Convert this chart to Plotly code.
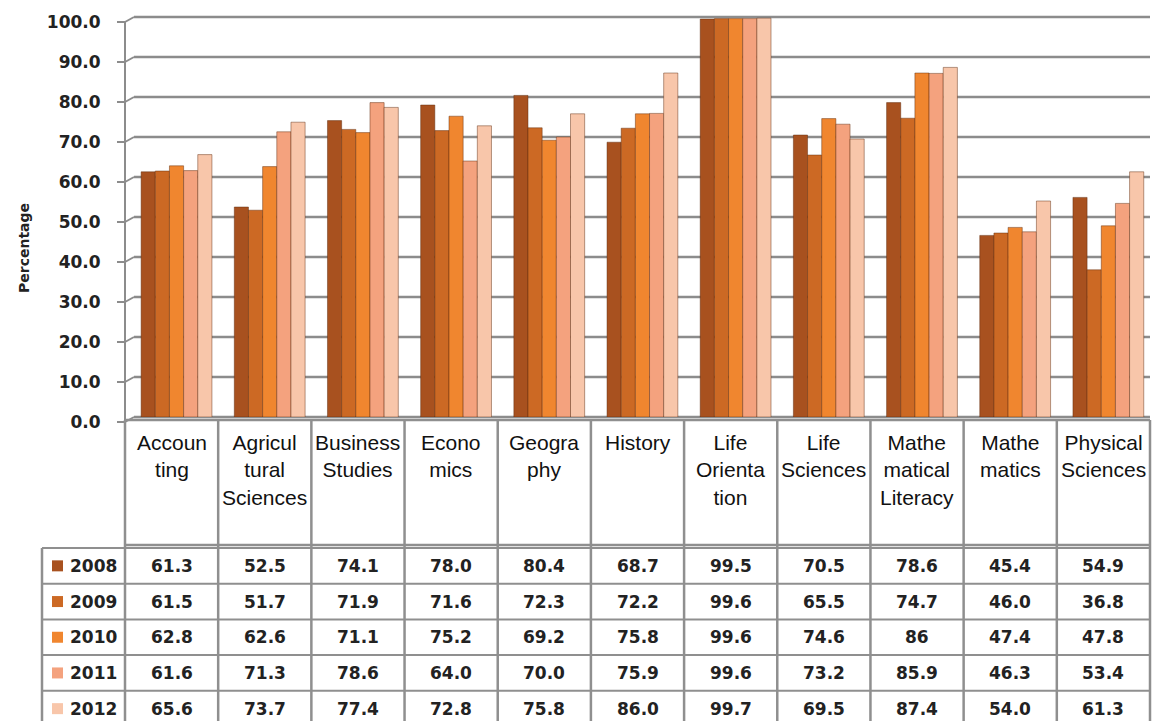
import plotly.graph_objects as go

# ---------------- data ----------------
subjects = ["Accoun<br>ting", "Agricul<br>tural<br>Sciences", "Business<br>Studies",
            "Econo<br>mics", "Geogra<br>phy", "History", "Life<br>Orienta<br>tion",
            "Life<br>Sciences", "Mathe<br>matical<br>Literacy", "Mathe<br>matics",
            "Physical<br>Sciences"]
years = ["2008", "2009", "2010", "2011", "2012"]
v2008 = [61.3, 52.5, 74.1, 78.0, 80.4, 68.7, 99.5, 70.5, 78.6, 45.4, 54.9]
v2009 = [61.5, 51.7, 71.9, 71.6, 72.3, 72.2, 99.6, 65.5, 74.7, 46.0, 36.8]
v2010 = [62.8, 62.6, 71.1, 75.2, 69.2, 75.8, 99.6, 74.6, 86, 47.4, 47.8]
v2011 = [61.6, 71.3, 78.6, 64.0, 70.0, 75.9, 99.6, 73.2, 85.9, 46.3, 53.4]
v2012 = [65.6, 73.7, 77.4, 72.8, 75.8, 86.0, 99.7, 69.5, 87.4, 54.0, 61.3]
series = [v2008, v2009, v2010, v2011, v2012]
y_ticks = [0, 10, 20, 30, 40, 50, 60, 70, 80, 90, 100]
y_title = "Percentage"

# ---------------- style ----------------
colors = ["#A8511F", "#CC6924", "#F0862F", "#F4A27E", "#F8C6AA"]
W, H = 1152, 721
L, R, T, B = 125, 2, 17, 304
PW, PH = W - L - R, H - T - B
grid_col = "#8c8c8c"
tbl_col = "#8f8f8f"
txt_col = "#222222"
bold = dict(family="DejaVu Sans", size=17, color=txt_col, weight="bold")


def px(x):
    return (x - L) / PW


def py(y):
    return (T + PH - y) / PH


def fmt(v):
    return str(v) if isinstance(v, int) else f"{v:.1f}"


n = len(subjects)
fig = go.Figure()
for yr, vals, c in zip(years, series, colors):
    fig.add_trace(go.Bar(
        x=list(range(n)), y=vals, name=yr,
        marker=dict(color=c, line=dict(color="rgba(90,40,10,0.45)", width=1)),
        showlegend=False,
    ))

shapes = []
annotations = []

# gridlines on the back wall + slanted connectors + front axis with ticks
front = 5 / PH
for v in y_ticks:
    g = v / 100
    shapes.append(dict(type="line", xref="paper", yref="paper", x0=px(134), x1=1,
                       y0=g, y1=g, line=dict(color=grid_col, width=2.5), layer="below"))
    shapes.append(dict(type="line", xref="paper", yref="paper", x0=0, x1=px(134),
                       y0=g - front, y1=g, line=dict(color=grid_col, width=2), layer="below"))
    shapes.append(dict(type="line", xref="paper", yref="paper", x0=px(117), x1=0,
                       y0=g - front, y1=g - front, line=dict(color=grid_col, width=2)))
shapes.append(dict(type="line", xref="paper", yref="paper", x0=0, x1=0,
                   y0=-front, y1=1 - front, line=dict(color=grid_col, width=2)))

# header box with category names
hdr_top, hdr_bot = py(420), py(545)
shapes.append(dict(type="line", xref="paper", yref="paper", x0=0, x1=1,
                   y0=hdr_top, y1=hdr_top, line=dict(color=tbl_col, width=2.5)))
shapes.append(dict(type="line", xref="paper", yref="paper", x0=0, x1=1,
                   y0=hdr_bot, y1=hdr_bot, line=dict(color=tbl_col, width=2.5)))
for k in range(n + 1):
    shapes.append(dict(type="line", xref="paper", yref="paper", x0=k / n, x1=k / n,
                       y0=py(726), y1=hdr_top, line=dict(color=tbl_col, width=2.5)))
for k, s in enumerate(subjects):
    annotations.append(dict(xref="paper", yref="paper", x=(k + 0.5) / n, y=py(429),
                            xanchor="center", yanchor="top", text=s, showarrow=False,
                            align="center",
                            font=dict(family="Liberation Sans", size=21, color="#111111")))

# data rows
row_top = 548
row_h = 35.7
shapes.append(dict(type="line", xref="paper", yref="paper", x0=px(42), x1=px(42),
                   y0=py(row_top + row_h * 5), y1=py(row_top), line=dict(color=tbl_col, width=2.5)))
for r in range(6):
    yy = py(row_top + r * row_h)
    shapes.append(dict(type="line", xref="paper", yref="paper", x0=px(42), x1=1,
                       y0=yy, y1=yy, line=dict(color=tbl_col, width=2)))
for r, (yr, vals, c) in enumerate(zip(years, series, colors)):
    yc = row_top + (r + 0.5) * row_h
    shapes.append(dict(type="rect", xref="paper", yref="paper", x0=px(52), x1=px(63),
                       y0=py(yc + 5.5), y1=py(yc - 5.5), fillcolor=c, line=dict(width=0)))
    annotations.append(dict(xref="paper", yref="paper", x=px(68), y=py(yc),
                            xanchor="left", yanchor="middle", text=yr, showarrow=False,
                            font=bold))
    for k, v in enumerate(vals):
        annotations.append(dict(xref="paper", yref="paper", x=(k + 0.5) / n, y=py(yc),
                                xanchor="center", yanchor="middle", text=fmt(v),
                                showarrow=False, font=bold))

# axis title
annotations.append(dict(xref="paper", yref="paper", x=px(24), y=py(248), text=y_title,
                        textangle=-90, showarrow=False, xanchor="center", yanchor="middle",
                        font=dict(family="DejaVu Sans", size=14, color=txt_col, weight="bold")))

fig.update_layout(
    width=W, height=H,
    margin=dict(l=L, r=R, t=T, b=B, pad=0),
    paper_bgcolor="white", plot_bgcolor="white",
    barmode="group", bargap=0.24, bargroupgap=0,
    xaxis=dict(range=[-0.553, n - 0.553], showticklabels=False, showgrid=False,
               zeroline=False, showline=False, ticks=""),
    yaxis=dict(range=[0, 100], tickvals=y_ticks, tickformat=".1f", showgrid=False,
               zeroline=False, showline=False, ticks="outside", ticklen=8,
               tickcolor="rgba(0,0,0,0)", ticklabelstandoff=12, ticklabelshift=5,
               tickfont=bold),
    shapes=shapes, annotations=annotations,
)
fig.write_html("out.html")
